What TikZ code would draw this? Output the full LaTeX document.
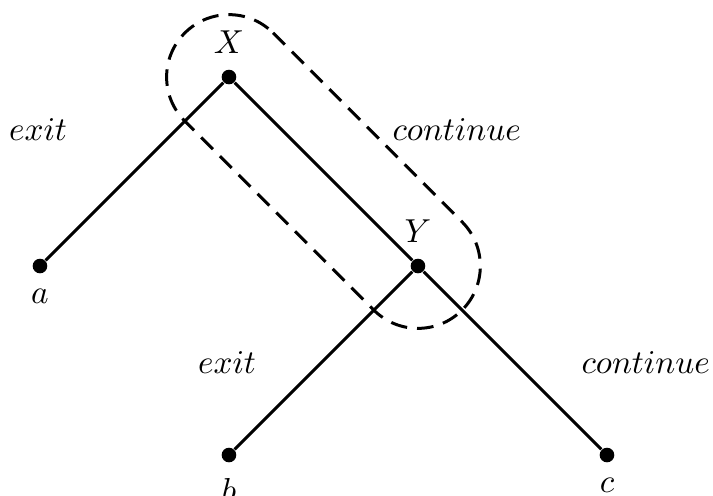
\documentclass[tikz,border=0pt]{standalone}
\usepackage{tikz}
\usetikzlibrary{positioning}

\begin{document}
\begin{tikzpicture}[
                    every node/.style = {text=black},
                    dot/.style = {circle, fill=black, inner sep=0pt, minimum size=4.4pt},
                    branch/.style = {draw, line width=0.9pt},
                    group/.style = {draw, line width=0.9pt, dash pattern=on 5pt off 3pt}]
            \useasboundingbox (-0.423,-2.423) rectangle (7.122,2.815);

            \node (x) [dot, label={[label distance=1pt]above:$X$}] at (2,2) {};
            \node (a) [dot, label={[label distance=1pt]below:$a$}] at (0,0) {};
            \node (y) [dot, label={[label distance=1pt]above:$Y$}] at (4,0) {};
            \node (b) [dot, label={[label distance=1pt]below:$b$}] at (2,-2) {};
            \node (c) [dot, label={[label distance=1pt]below:$c$}] at (6,-2) {};

            \draw [branch] (x) -- (a);
            \draw [branch] (x) -- (y);
            \draw [branch] (y) -- (b);
            \draw [branch] (y) -- (c);

            \node (ex1) at (-0.02,1.44)  {$exit$};
            \node (co1) at (4.41,1.44)   {$continue$};
            \node (ex2) at (1.98,-1.02)  {$exit$};
            \node (co2) at (6.41,-1.02)  {$continue$};

            % group round X and Y
            \begin{scope}[shift={(x)}, rotate=-45]
                \draw [group] (0,0.66) -- (2.828,0.66) arc (90:-90:0.66)
                              -- (0,-0.66) arc (270:90:0.66) -- cycle;
            \end{scope}
            \end{tikzpicture}
\end{document}
